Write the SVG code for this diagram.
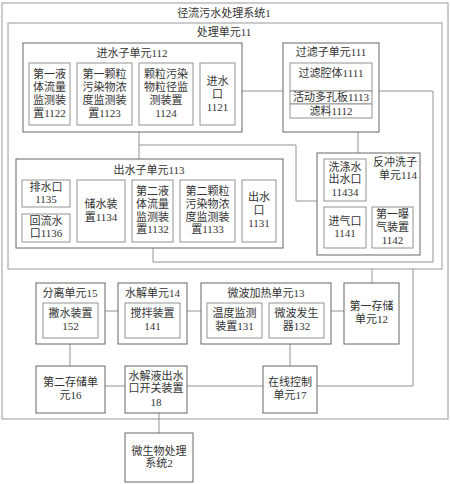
<svg xmlns="http://www.w3.org/2000/svg" width="450" height="484" viewBox="0 0 450 484">
<style>
text{font-family:"Liberation Serif","Noto Sans CJK SC",serif;font-size:11px;fill:#333;text-anchor:middle}
.frame{fill:none;stroke:#aaa;stroke-width:1.2}
.box{fill:#fff;stroke:#666;stroke-width:1}
.inner{fill:#fff;stroke:#888;stroke-width:0.9}
.con{fill:none;stroke:#888;stroke-width:0.9}
</style>
<rect width="450" height="484" fill="#fff"/>
<g id="sys1"><rect class="frame" x="2" y="3" width="446" height="416"/><text x="224" y="17">径流污水处理系统1</text></g>
<g id="unit11"><rect class="frame" x="8" y="23" width="434" height="246"/><text x="224" y="36">处理单元11</text></g>
<g id="connectors">
<polyline class="con" points="242,91 283,91"/>
<polyline class="con" points="379,91 433,91 433,262 153,262 153,248"/>
<polyline class="con" points="139,132 139,159"/>
<polyline class="con" points="139,145 296,145 296,201 317,201"/>
<polyline class="con" points="358,132 358,153"/>
<polyline class="con" points="105,311 118,311"/>
<polyline class="con" points="187,311 201,311"/>
<polyline class="con" points="331,311 344,311"/>
<polyline class="con" points="372,269 372,283"/>
<polyline class="con" points="70,344 70,366"/>
<polyline class="con" points="105,386 125,386"/>
<polyline class="con" points="187,386 263,386"/>
<polyline class="con" points="290,338 290,366"/>
<polyline class="con" points="317,386 413,386 413,269"/>
<polyline class="con" points="159,413 159,433"/>
</g>
<g id="sub112"><rect class="box" x="23" y="43" width="219" height="89"/><text x="132" y="57">进水子单元112</text></g>
<g id="n1122"><rect class="inner" x="29" y="63" width="41" height="62"/><text x="49.5" y="78">第一液</text><text x="49.5" y="91">体流量</text><text x="49.5" y="104">监测装</text><text x="49.5" y="117">置1122</text></g>
<g id="n1123"><rect class="inner" x="77" y="63" width="55" height="62"/><text x="104.5" y="78">第一颗粒</text><text x="104.5" y="91">污染物浓</text><text x="104.5" y="104">度监测装</text><text x="104.5" y="117">置1123</text></g>
<g id="n1124"><rect class="inner" x="139" y="63" width="54" height="62"/><text x="166" y="78">颗粒污染</text><text x="166" y="91">物粒径监</text><text x="166" y="104">测装置</text><text x="166" y="117">1124</text></g>
<g id="n1121"><rect class="inner" x="200" y="63" width="35" height="62"/><text x="217.5" y="85">进水</text><text x="217.5" y="98">口</text><text x="217.5" y="111">1121</text></g>
<g id="sub111"><rect class="box" x="283" y="43" width="96" height="89"/><text x="331" y="56">过滤子单元111</text></g>
<g id="n1111"><rect class="inner" x="290" y="63" width="82" height="28"/><text x="331" y="77">过滤腔体1111</text></g>
<g id="n1113"><rect class="inner" x="290" y="91" width="82" height="13"/><text x="331" y="101">活动多孔板1113</text></g>
<g id="n1112"><rect class="inner" x="290" y="104" width="82" height="14"/><text x="331" y="115">滤料1112</text></g>
<g id="sub113"><rect class="box" x="16" y="159" width="267" height="89"/><text x="149" y="174">出水子单元113</text></g>
<g id="n1135"><rect class="inner" x="22" y="180" width="48" height="27"/><text x="46" y="191">排水口</text><text x="46" y="203">1135</text></g>
<g id="n1136"><rect class="inner" x="22" y="214" width="48" height="28"/><text x="46" y="225">回流水</text><text x="46" y="237">口1136</text></g>
<g id="n1134"><rect class="inner" x="77" y="180" width="48" height="62"/><text x="101" y="208">储水装</text><text x="101" y="221">置1134</text></g>
<g id="n1132"><rect class="inner" x="132" y="180" width="41" height="62"/><text x="152.5" y="195">第二液</text><text x="152.5" y="208">体流量</text><text x="152.5" y="221">监测装</text><text x="152.5" y="233">置1132</text></g>
<g id="n1133"><rect class="inner" x="180" y="180" width="55" height="62"/><text x="207.5" y="195">第二颗粒</text><text x="207.5" y="208">污染物浓</text><text x="207.5" y="221">度监测装</text><text x="207.5" y="233">置1133</text></g>
<g id="n1131"><rect class="inner" x="242" y="180" width="34" height="62"/><text x="259" y="201">出水</text><text x="259" y="214">口</text><text x="259" y="227">1131</text></g>
<g id="sub114"><rect class="box" x="317" y="153" width="103" height="102"/><text x="395" y="166">反冲洗子</text><text x="398" y="179">单元114</text></g>
<g id="n11434"><rect class="inner" x="324" y="159" width="42" height="42"/><text x="345" y="171">洗涤水</text><text x="345" y="183">出水口</text><text x="345" y="196">11434</text></g>
<g id="n1141"><rect class="inner" x="324" y="207" width="42" height="41"/><text x="345" y="225">进气口</text><text x="345" y="237">1141</text></g>
<g id="n1142"><rect class="inner" x="372" y="207" width="41" height="41"/><text x="392.5" y="218">第一曝</text><text x="392.5" y="231">气装置</text><text x="392.5" y="244">1142</text></g>
<g id="u15"><rect class="box" x="36" y="283" width="69" height="61"/><text x="70" y="297">分离单元15</text></g>
<g id="n152"><rect class="inner" x="43" y="303" width="55" height="35"/><text x="70.5" y="317">撇水装置</text><text x="70.5" y="330">152</text></g>
<g id="u14"><rect class="box" x="118" y="283" width="69" height="61"/><text x="152.5" y="297">水解单元14</text></g>
<g id="n141"><rect class="inner" x="125" y="303" width="55" height="35"/><text x="152.5" y="317">搅拌装置</text><text x="152.5" y="330">141</text></g>
<g id="u13"><rect class="box" x="201" y="283" width="130" height="61"/><text x="266" y="297">微波加热单元13</text></g>
<g id="n131"><rect class="inner" x="207" y="303" width="55" height="35"/><text x="234.5" y="317">温度监测</text><text x="234.5" y="330">装置131</text></g>
<g id="n132"><rect class="inner" x="269" y="303" width="55" height="35"/><text x="296.5" y="317">微波发生</text><text x="296.5" y="330">器132</text></g>
<g id="u12"><rect class="box" x="344" y="283" width="55" height="61"/><text x="371.5" y="310">第一存储</text><text x="371.5" y="323">单元12</text></g>
<g id="u16"><rect class="box" x="36" y="366" width="69" height="47"/><text x="70.5" y="386">第二存储单</text><text x="70.5" y="399">元16</text></g>
<g id="u18"><rect class="box" x="125" y="366" width="62" height="47"/><text x="156" y="380">水解液出水</text><text x="156" y="392">口开关装置</text><text x="156" y="406">18</text></g>
<g id="u17"><rect class="box" x="263" y="366" width="54" height="47"/><text x="290" y="386">在线控制</text><text x="290" y="399">单元17</text></g>
<g id="sys2"><rect class="box" x="125" y="433" width="68" height="49"/><text x="159" y="455">微生物处理</text><text x="159" y="467">系统2</text></g>
</svg>
